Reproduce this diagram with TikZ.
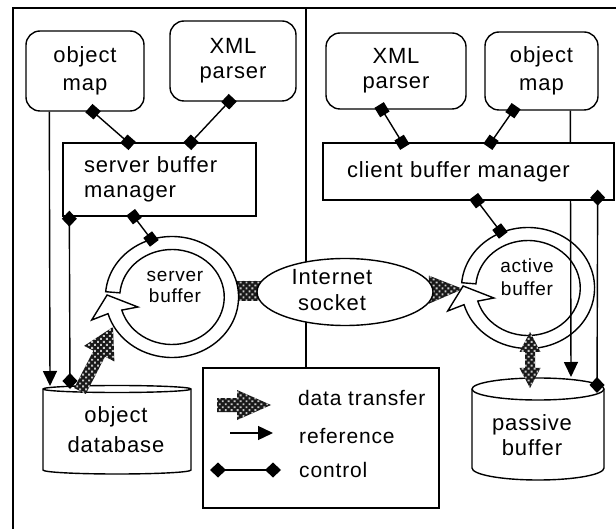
\documentclass[tikz,border=0pt]{standalone}
\usepackage{fontspec}
\setmainfont{Liberation Sans}[LetterSpace=4]
\usetikzlibrary{arrows.meta,calc,patterns.meta,shapes.geometric}
\newcommand{\fs}[2]{\fontsize{#1}{#2}\selectfont}
% patterned data-transfer arrow: tail, tip, body half, head half, head length
\newcommand{\dtarrow}[5]{%
  \coordinate (dtH) at ($(#2)!#5!(#1)$);
  \fill[dt] ($(#1)!#3!90:(#2)$) -- ($(dtH)!#3!90:(#2)$) -- ($(dtH)!#4!90:(#2)$) -- (#2)
    -- ($(dtH)!#4!-90:(#2)$) -- ($(dtH)!#3!-90:(#2)$) -- ($(#1)!#3!-90:(#2)$) -- cycle;}
\newcommand{\dtdouble}[5]{%
  \coordinate (dtP) at ($(#1)!#5!(#2)$);
  \coordinate (dtQ) at ($(#2)!#5!(#1)$);
  \fill[dt] (#1) -- ($(dtP)!#4!90:(#2)$) -- ($(dtP)!#3!90:(#2)$) -- ($(dtQ)!#3!90:(#2)$)
    -- ($(dtQ)!#4!90:(#2)$) -- (#2) -- ($(dtQ)!#4!-90:(#2)$) -- ($(dtQ)!#3!-90:(#2)$)
    -- ($(dtP)!#3!-90:(#2)$) -- ($(dtP)!#4!-90:(#2)$) -- cycle;}
\newcommand{\ringpath}{%
  \draw[lw, fill=white] (185:60.5) arc[start angle=185, end angle=524, radius=60.5]
    -- (-73,23) -- (-59,-2) -- (-31,10) -- (524:47.5)
    arc[start angle=524, end angle=185, radius=47.5] -- cycle;}
\begin{document}
\begin{tikzpicture}[x=1pt,y=-1pt,
  lw/.style={line width=1.4pt},
  box/.style={draw, line width=1.4pt, inner sep=0pt, align=center, fill=white},
  rbox/.style={box, rounded corners=14pt},
  dt/.style={fill=black!90, postaction={pattern={Dots[distance=4.2pt,radius=1.35pt,angle=45]}, pattern color=black!22}},
  sq/.style={line width=1.4pt, {Square[length=11pt,width=11pt]}-{Square[length=11pt,width=11pt]}, shorten <=-5.5pt, shorten >=-5.5pt},
  ctl/.style={line width=1.4pt, {Diamond[length=16pt,width=15pt]}-{Diamond[length=16pt,width=15pt]}},
  refa/.style={line width=1.4pt, -{Triangle[length=15pt,width=14pt]}},
  txt/.style={inner sep=0pt, align=center},
]
\useasboundingbox (0,0) rectangle (616,529);
% frame and divider
\draw[lw] (13,529) -- (13,8) -- (616,8);
\draw[lw] (306,8) -- (306,368);

% hidden data transfer links behind the socket
\coordinate (dtA1) at (228,281);
\coordinate (dtA2) at (276,301);
\fill[dt] (dtA1) rectangle (dtA2);
\coordinate (dtB1) at (400,290);
\coordinate (dtB2) at (463,289);
\dtarrow{dtB1}{dtB2}{7pt}{14pt}{34pt}

% internet socket
\node[draw, lw, ellipse, fill=white, minimum width=176pt, minimum height=67pt, inner sep=0pt] (sock) at (345,292) {};
\node[txt, font=\fs{22}{26}] (socktext) at (332,290) {Internet\\socket};

% circular buffers
\begin{scope}[shift={(172,297)}, xscale=1.1]
  \ringpath
\end{scope}
\begin{scope}[shift={(528,288)}, xscale=1.1]
  \ringpath
\end{scope}
\node[txt, font=\fs{19}{21}] (sbuf) at (175,287) {server\\buffer};
\node[txt, font=\fs{19}{23}] (abuf) at (527,277) {active\\buffer};

% object database cylinder
\draw[lw, fill=white] (43,389) -- (43,470) arc[start angle=180, end angle=0, x radius=74, y radius=4]
  -- (191,389) arc[start angle=0, end angle=-180, x radius=74, y radius=3.5] -- cycle;
\draw[lw] (43,389) arc[start angle=180, end angle=0, x radius=74, y radius=3.5];
\node[txt, font=\fs{22}{30}] (odb) at (116,430) {object\\database};

% passive buffer cylinder
\draw[lw, fill=white] (472,389) -- (472,468) arc[start angle=180, end angle=0, x radius=66, y radius=12]
  -- (604,389) arc[start angle=0, end angle=-180, x radius=66, y radius=11] -- cycle;
\draw[lw] (472,389) arc[start angle=180, end angle=0, x radius=66, y radius=11];
\node[txt, font=\fs{22}{25}] (pbuf) at (532,435) {passive\\buffer};

% data transfer arrows
\coordinate (dbt) at (80,391);
\coordinate (sringin) at (113,327);
\dtarrow{dbt}{sringin}{6.5pt}{17pt}{30pt}
\coordinate (aringout) at (530,332);
\coordinate (pbtop) at (530,388);
\dtdouble{aringout}{pbtop}{5pt}{10.5pt}{20pt}

% upper boxes
\node[rbox, minimum width=118pt, minimum height=80pt, font=\fs{22}{28}] (omL) at (85,71) {object\\map};
\node[rbox, minimum width=126pt, minimum height=80pt, font=\fs{22}{25}] (xmlL) at (233,61) {XML\\parser};
\node[rbox, minimum width=140pt, minimum height=76pt, font=\fs{22}{25}] (xmlR) at (396,71) {XML\\parser};
\node[rbox, minimum width=113pt, minimum height=78pt, font=\fs{22}{28}] (omR) at (541.5,71) {object\\map};

% reference lines (drawn before the manager boxes)
\coordinate (refLs) at ($(omL.south west)+(24,0)$);
\coordinate (refLe) at (50,386);
\draw[refa] (refLs) -- (refLe);
\coordinate (refRs) at ($(omR.south west)+(86,0)$);
\coordinate (refRe) at (571,377);
\draw[refa] (refRs) -- (refRe);

\node[box, minimum width=193pt, minimum height=73pt, text width=151pt, align=left, font=\fs{22}{25}] (sbm) at (159.5,179.5) {server buffer\\manager};
\node[box, minimum width=291pt, minimum height=57pt, text width=243pt, align=left, font=\fs{22}{25}] (cbm) at (468.5,171.5) {client buffer manager};

% control lines
\coordinate (ctlLs) at ($(sbm.south west)+(7,-6)$);
\coordinate (ctlLe) at (70,389);
\draw[ctl] (ctlLs) -- (ctlLe);
\coordinate (ctlRs) at ($(cbm.south east)+(-17,-11)$);
\coordinate (ctlRe) at (597,393);
\draw[ctl] (ctlRs) -- (ctlRe);

% square-ended connectors
\draw[sq] ($(omL.south)+(8,0)$) -- ($(sbm.north)+(-31.5,0)$);
\draw[sq] ($(xmlL.south)+(-4,0)$) -- ($(sbm.north)+(31.5,0)$);
\coordinate (sringtop) at (151,239);
\draw[sq] ($(sbm.south)+(-25.5,0)$) -- (sringtop);
\draw[sq] ($(xmlR.south)+(-14,0)$) -- ($(cbm.north)+(-66.5,0)$);
\draw[sq] ($(omR.south)+(-28.5,0)$) -- ($(cbm.north)+(22.5,0)$);
\coordinate (aringtop) at (500,231);
\draw[sq] ($(cbm.south)+(8.5,0)$) -- (aringtop);

% legend
\node[box, minimum width=236pt, minimum height=140pt] (legend) at (321,438) {};
\coordinate (lg1a) at (217,405);
\coordinate (lg1b) at (271,405);
\dtarrow{lg1a}{lg1b}{7pt}{15pt}{34pt}
\coordinate (lg2a) at (230,433);
\coordinate (lg2b) at (273,433);
\draw[refa] (lg2a) -- (lg2b);
\coordinate (lg3a) at (210,470);
\coordinate (lg3b) at (281,470);
\draw[ctl] (lg3a) -- (lg3b);
\node[anchor=base west, inner sep=0pt, font=\fs{21}{24}] (ldt) at (298,406) {data transfer};
\node[anchor=base west, inner sep=0pt, font=\fs{21}{24}] (lref) at (299,443) {reference};
\node[anchor=base west, inner sep=0pt, font=\fs{21}{24}] (lctl) at (299,477) {control};
\end{tikzpicture}
\end{document}
